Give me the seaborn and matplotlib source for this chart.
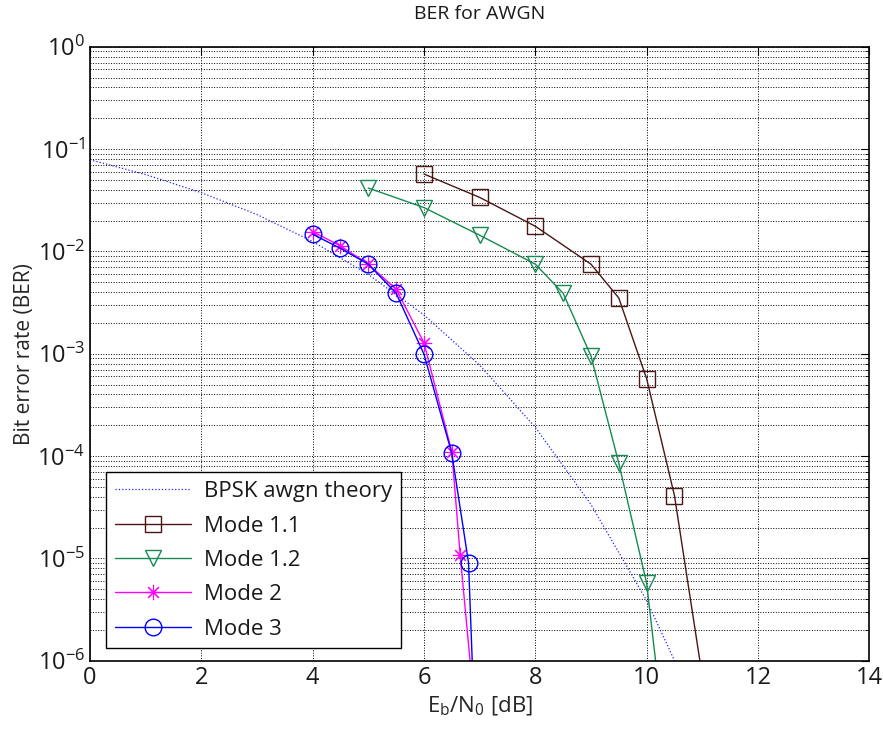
import numpy as np
import matplotlib
matplotlib.use("Agg")
import matplotlib.pyplot as plt
from matplotlib.ticker import FixedLocator, NullLocator, NullFormatter
import seaborn as sns

# Donnees (Eb/N0 en dB, BER)
ebn0_theory = [0, 1, 2, 3, 4, 5, 6, 7, 8, 9, 10, 11, 12]
ber_theory = [0.0786, 0.0563, 0.0375, 0.0229, 0.0125, 0.00595, 0.00239,
              7.73e-4, 1.91e-4, 3.36e-5, 3.87e-6, 2.61e-7, 9.0e-9]

ebn0_mode11 = [6, 7, 8, 9, 9.5, 10, 10.5, 11]
ber_mode11 = [0.057, 0.0337, 0.0176, 0.0075, 0.0035, 5.7e-4, 4.1e-5, 7e-7]

ebn0_mode12 = [5, 6, 7, 8, 8.5, 9, 9.5, 10, 10.5]
ber_mode12 = [0.0416, 0.0268, 0.0144, 0.0075, 0.0039, 9.5e-4, 8.5e-5, 5.7e-6, 2.5e-8]

ebn0_mode2 = [4, 4.5, 5, 5.5, 6, 6.5, 6.65, 7]
ber_mode2 = [0.0156, 0.0113, 0.0075, 0.00426, 0.00128, 1.1e-4, 1.08e-5, 1.0e-7]

ebn0_mode3 = [4, 4.5, 5, 5.5, 6, 6.5, 6.8, 7]
ber_mode3 = [0.0147, 0.0107, 0.0075, 0.0039, 9.9e-4, 1.06e-4, 9.1e-6, 1.2e-8]

x_ticks = [0, 2, 4, 6, 8, 10, 12, 14]
y_decades = [-6, -5, -4, -3, -2, -1, 0]

# asterisque type MATLAB (+ et x superposes)
ASTERISK = (8, 2, 0)

series = [
    ("BPSK awgn theory", ebn0_theory, ber_theory, "#2020ff", None, ":", 0.9, 0),
    ("Mode 1.1", ebn0_mode11, ber_mode11, "#4a1616", "s", "-", 1.0, 11),
    ("Mode 1.2", ebn0_mode12, ber_mode12, "#168a52", "v", "-", 1.0, 12),
    ("Mode 2", ebn0_mode2, ber_mode2, "#ff00ff", ASTERISK, "-", 1.0, 11),
    ("Mode 3", ebn0_mode3, ber_mode3, "#0000ff", "o", "-", 1.0, 12),
]

sns.set_style("white")
plt.rcParams["font.family"] = ["Open Sans", "DejaVu Sans"]
plt.rcParams["mathtext.fontset"] = "custom"
plt.rcParams["mathtext.rm"] = "Open Sans"
plt.rcParams["text.color"] = "#1a1a1a"

fig = plt.figure(figsize=(8.83, 7.30), dpi=100)
ax = fig.add_axes([0.1019, 0.0949, 0.8826, 0.8411])

for label, x, y, color, marker, ls, lw, ms in series:
    kw = {}
    if marker:
        kw = dict(marker=marker, markersize=ms, markerfacecolor="none",
                  markeredgecolor=color,
                  markeredgewidth=0.8 if marker == ASTERISK else 1.0)
    sns.lineplot(x=x, y=y, ax=ax, color=color, linestyle=ls, linewidth=lw,
                 label=label, estimator=None, sort=False, **kw)

ax.set_yscale("log")
ax.set_xlim(0, 14)
ax.set_ylim(1e-6, 1)
ax.set_xticks(x_ticks)
ax.xaxis.set_minor_locator(NullLocator())

# graduations log limitees a la plage visible
major = [10.0 ** d for d in y_decades]
minor = [k * 10.0 ** d for d in y_decades[:-1] for k in range(2, 10)]
ax.yaxis.set_major_locator(FixedLocator(major))
ax.yaxis.set_minor_locator(FixedLocator(minor))
ax.yaxis.set_minor_formatter(NullFormatter())

ax.grid(True, which="major", linestyle=":", color="black", linewidth=0.7)
ax.grid(True, which="minor", axis="y", linestyle=":", color="black", linewidth=0.7)

ax.tick_params(which="both", direction="in", top=True, right=True,
               labelsize=17, colors="black", labelcolor="#1a1a1a")
ax.tick_params(which="major", length=6, width=0.8)
ax.tick_params(which="minor", length=3, width=0.6)
for s in ax.spines.values():
    s.set_color("black")
    s.set_linewidth(1.2)

ax.set_title("BER for AWGN", fontsize=14, pad=20)
ax.set_xlabel(r"$\mathregular{E_b/N_0}$ [dB]", fontsize=16, labelpad=4)
ax.set_ylabel("Bit error rate (BER)", fontsize=15, labelpad=2)

leg = ax.legend(loc="lower left", bbox_to_anchor=(0.021, 0.02), fontsize=16,
                frameon=True, fancybox=False, framealpha=1, edgecolor="black",
                handlelength=3.4, borderpad=0.4, labelspacing=0.6,
                handletextpad=0.6, borderaxespad=0)
leg.get_frame().set_linewidth(1.0)

fig.savefig("out.png", dpi=100)
